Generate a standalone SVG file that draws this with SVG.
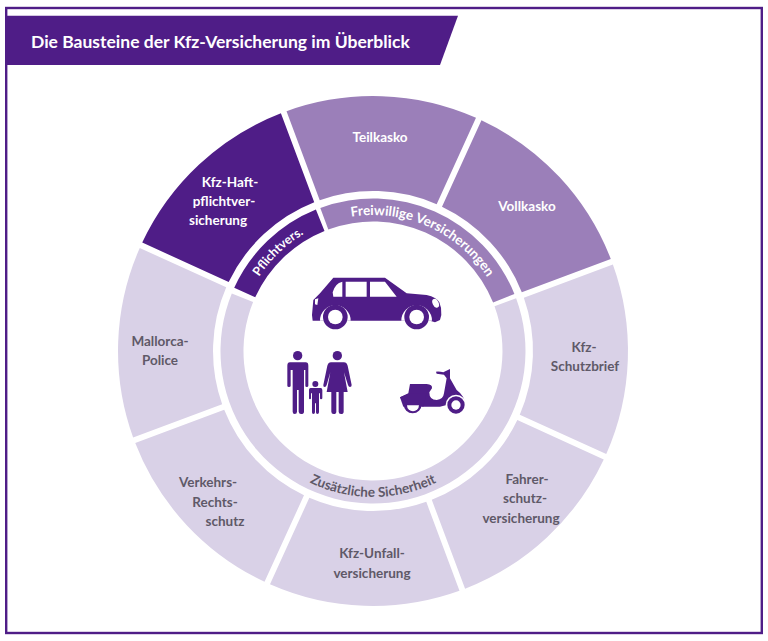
<svg xmlns="http://www.w3.org/2000/svg" xmlns:xlink="http://www.w3.org/1999/xlink" width="768" height="641" viewBox="0 0 768 641">
<style>
text{font-family:"Lato","Open Sans","Liberation Sans",sans-serif;font-weight:700;font-size:13.5px;text-anchor:middle}
.w{fill:#fff}.g{fill:#5f5968}
.d{fill:#4f1d87}.m{fill:#9b7fb9}.l{fill:#d9d1e7}
</style>
<defs>
<path id="sector" d="M-94.8,-236.7A255,255 0 0 1 94.8,-236.7L58.5,-148.9A160,160 0 0 0 -58.5,-148.9Z"/>
<path id="arcP" d="M249.2,294.6A136,136 0 0 1 322.1,224.9"/>
<path id="arcF" d="M326.5,223.2A136,136 0 0 1 499.1,300.1"/>
<path id="arcZ" d="M246.6,424A146,146 0 0 0 499.4,424"/>
</defs>
<rect width="768" height="641" fill="#fff"/>
<rect x="6.2" y="8" width="755.6" height="625" fill="none" stroke="#4f1d87" stroke-width="2.4"/>
<g id="title">
<path class="d" d="M7,15.7H458L440,65H7Z"/>
<text class="w" x="31" y="47.500" style="text-anchor:start;font-size:17.500px">Die Bausteine der Kfz-Versicherung im Überblick</text>
</g>
<g id="connectors"/>
<g id="haft"><use href="#sector" class="d" transform="translate(373,351) rotate(-43)"/>
<text class="w" x="230" y="187">Kfz-Haft-</text><text class="w" x="224" y="206">pflichtver-</text><text class="w" x="218" y="225">sicherung</text></g>
<g id="teilkasko"><use href="#sector" class="m" transform="translate(373,351) rotate(2)"/>
<text class="w" x="380" y="142">Teilkasko</text></g>
<g id="vollkasko"><use href="#sector" class="m" transform="translate(373,351) rotate(47)"/>
<text class="w" x="527" y="211">Vollkasko</text></g>
<g id="schutzbrief"><use href="#sector" class="l" transform="translate(373,351) rotate(92)"/>
<text class="g" x="584" y="352">Kfz-</text><text class="g" x="585" y="371">Schutzbrief</text></g>
<g id="fahrer"><use href="#sector" class="l" transform="translate(373,351) rotate(137)"/>
<text class="g" x="527" y="484">Fahrer-</text><text class="g" x="525" y="503">schutz-</text><text class="g" x="521" y="523">versicherung</text></g>
<g id="unfall"><use href="#sector" class="l" transform="translate(373,351) rotate(182)"/>
<text class="g" x="372" y="558">Kfz-Unfall-</text><text class="g" x="372" y="578">versicherung</text></g>
<g id="verkehr"><use href="#sector" class="l" transform="translate(373,351) rotate(227)"/>
<text class="g" x="208" y="487">Verkehrs-</text><text class="g" x="215" y="507">Rechts-</text><text class="g" x="225" y="526">schutz</text></g>
<g id="mallorca"><use href="#sector" class="l" transform="translate(373,351) rotate(272)"/>
<text class="g" x="160" y="346">Mallorca-</text><text class="g" x="160" y="365">Police</text></g>
<g id="ring-pflicht"><path class="d" transform="translate(373,351)" d="M-138.800,-63.200A152.500,152.500 0 0 1 -57.100,-141.400L-48.500,-120.100A129.500,129.500 0 0 0 -117.800,-53.700Z"/>
<text class="w" style="font-size:12.500px"><textPath href="#arcP" startOffset="50%">Pflichtvers.</textPath></text></g>
<g id="ring-frei"><path class="m" transform="translate(373,351)" d="M-52.700,-143.100A152.500,152.500 0 0 1 141.400,-57.100L120.100,-48.500A129.500,129.500 0 0 0 -44.700,-121.500Z"/>
<text class="w"><textPath href="#arcF" startOffset="50%">Freiwillige Versicherungen</textPath></text></g>
<g id="ring-zusatz"><path class="l" transform="translate(373,351)" d="M143.100,-52.700A152.500,152.500 0 1 1 -141.200,-57.600L-119.900,-48.900A129.500,129.500 0 1 0 121.500,-44.700Z"/>
<text class="g"><textPath href="#arcZ" startOffset="50%">Zusätzliche Sicherheit</textPath></text></g>
<g id="car" transform="translate(270,265) scale(.3333)">
<path class="d" d="M190,38H345L410,85L470,90Q500,97 508,112Q516,130 514,150L510,165L495,172L480,167H128L126,150L130,105L150,85Z"/>
<path fill="#fff" d="M217,50V95H190L188,82Q195,55 217,50ZM227,50H290V95H227ZM300,50H345L380,95H300ZM135,103L145,100L142,120L135,118Z"/>
<ellipse cx="497" cy="115" rx="9" ry="14" transform="rotate(-25 497 115)" fill="#fff"/>
<path fill="#fff" d="M150,167A46,46 0 0 1 242,167ZM394,167A46,46 0 0 1 486,167Z"/>
<circle class="d" cx="196" cy="156" r="37"/><circle cx="196" cy="156" r="22" fill="#fff"/>
<circle class="d" cx="440" cy="156" r="37"/><circle cx="440" cy="156" r="22" fill="#fff"/>
</g>
<g id="people" transform="translate(270,265) scale(.3333)">
<circle class="d" cx="83" cy="272" r="14"/>
<path class="d" d="M60,292H107Q115,292 115,302V362Q115,366 110,366Q106,366 106,362V315H102V440Q102,447 93,447Q87,447 86,440V375H81V440Q81,447 74,447Q68,447 68,440V315H62V362Q62,366 57,366Q52,366 52,362V302Q52,292 60,292Z"/>
<circle class="d" cx="202" cy="272" r="14"/>
<path class="d" d="M183,292H222Q230,292 233,302L245,360Q245,366 240,366Q236,366 234,360L222,322L233,381H221V440Q221,447 213,447Q206,447 206,440V381H199V440Q199,447 191,447Q184,447 184,440V381H170L181,322L170,360Q168,366 164,366Q159,366 160,360L172,302Q175,292 183,292Z"/>
<circle class="d" cx="136" cy="357" r="9"/>
<path class="d" d="M122,369H152Q157,369 157,375V400Q157,403 153,403Q150,403 150,400V385H147V442Q147,447 142,447Q138,447 138,442V415H135V442Q135,447 130,447Q126,447 126,442V385H123V400Q123,403 120,403Q117,403 117,400V375Q117,369 122,369Z"/>
</g>
<g id="scooter" transform="translate(270,265) scale(.3333)">
<path class="d" d="M390,397L415,385L420,357H470Q488,358 486,370L478,382Q478,405 500,405Q520,403 522,385L530,340L522,329L500,326L498,320Q510,319 520,322L540,312V340L560,375Q585,393 585,420H530L510,425H458L450,412Q430,400 400,412Z"/>
<circle class="d" cx="428" cy="418" r="27" clip-path="none"/>
<path class="d" d="M390,397L420,385H470L460,425H400Z"/>
<path fill="#fff" d="M411,421H447A18,18 0 0 1 411,421Z"/>
<circle fill="#fff" cx="558" cy="420" r="31"/>
<circle class="d" cx="558" cy="420" r="26"/><circle cx="558" cy="420" r="14" fill="#fff"/>
</g>
</svg>
